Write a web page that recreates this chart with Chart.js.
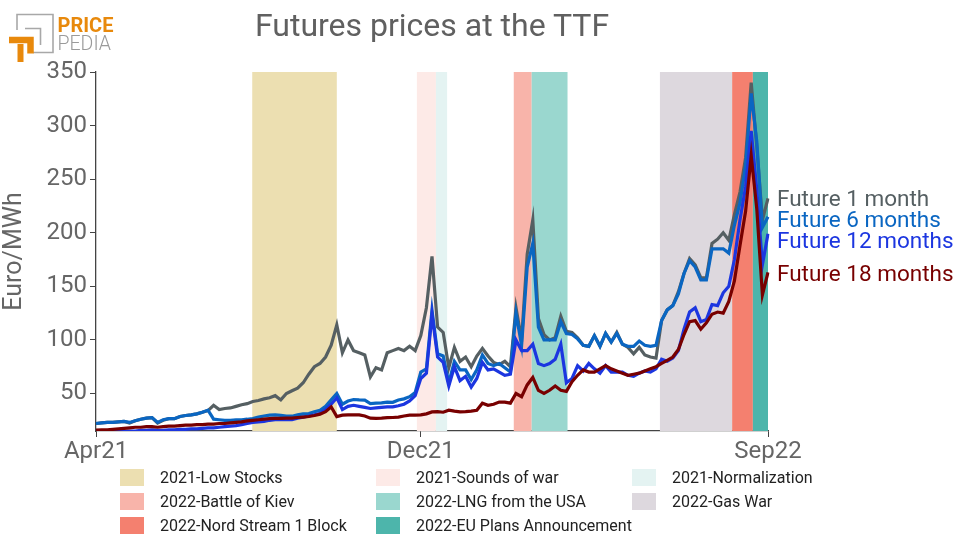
<!DOCTYPE html>
<html>
<head>
<meta charset="utf-8">
<script src="https://cdn.jsdelivr.net/npm/chart.js@4.4.1/dist/chart.umd.min.js"></script>
<style>
  html, body { margin: 0; padding: 0; background: #fff; }
  body { width: 963px; height: 538px; position: relative; overflow: hidden; font-family: Roboto, "Noto Sans", sans-serif; }
  #chart { position: absolute; left: 0; top: 0; }
  #title { position: absolute; left: 0; width: 864px; top: 6px; text-align: center; font-size: 32px; color: #606060; }
  #logo { position: absolute; left: 0; top: 0; }
  .endLabel { position: absolute; left: 777px; font-size: 22.5px; line-height: 24px; white-space: nowrap; }
  #legend { position: absolute; left: 120px; top: 465px; display: grid; grid-template-columns: 256px 256px 256px; grid-auto-rows: 24px; }
  .item { display: flex; align-items: center; font-size: 16px; color: #222; }
  .item span.box { width: 24px; height: 17px; margin-right: 16px; flex: none; }
</style>
</head>
<body>
<canvas id="chart" width="963" height="538"></canvas>
<div id="title">Futures prices at the TTF</div>
<svg id="logo" width="120" height="66" viewBox="0 0 120 66">
  <path d="M17 30 V14.5 H53 V52.5 H33" fill="none" stroke="#a8a8a8" stroke-width="1.6"/>
  <path d="M25 28.5 H40.5 V45" fill="none" stroke="#a8a8a8" stroke-width="1.6"/>
  <path d="M9 40 H30.5 V53.5" fill="none" stroke="#e8890c" stroke-width="6.5"/>
  <path d="M20.5 44 V62" fill="none" stroke="#e8890c" stroke-width="6"/>
  <text x="57.5" y="32" font-family="Roboto, sans-serif" font-weight="bold" font-size="20" fill="#e8890c">PRICE</text>
  <text x="57.5" y="50" font-family="Roboto, sans-serif" font-weight="300" font-size="19.5" fill="#9a9a9a">PEDIA</text>
</svg>
<div id="legend"></div>

<script>
// 系列名と色
const seriesNames = ["Future 1 month", "Future 6 months", "Future 12 months", "Future 18 months"];
const seriesColors = ["#555f62", "#0a66c2", "#1c36e0", "#780000"];
const labelY = [198, 219, 240, 273];

// x軸の目盛り (サンプル番号)
const xTickAt = [0, 58, 120];
const xTickLabels = ["Apr21", "Dec21", "Sep22"];
const yTicks = [50, 100, 150, 200, 250, 300, 350];

// 期間の帯
const bandNames = ["2021-Low Stocks", "2021-Sounds of war", "2021-Normalization",
  "2022-Battle of Kiev", "2022-LNG from the USA", "2022-Gas War",
  "2022-Nord Stream 1 Block", "2022-EU Plans Announcement"];
const bandStart = [27.9, 57.3, 60.7, 74.6, 77.8, 100.7, 113.6, 117.3];
const bandEnd   = [43.0, 60.7, 62.7, 77.8, 84.2, 113.6, 117.3, 120];
const bandColors = ["#ecdfb1", "#fdeae7", "#e4f3f2", "#f8b4aa", "#9ad7cf", "#ddd8de", "#f4806f", "#4db5ab"];

// 価格データ (Euro/MWh)
const future1 = [22, 22.5, 23, 23, 23.5, 24, 22.5, 24.5, 26, 27, 27.5, 22.5, 25, 26.5, 26.5, 28.5, 29.5, 30, 31, 32.5,
  34, 39, 35, 36, 36.5, 38, 39.5, 40.5, 42.5, 43.5, 45, 46, 48, 44, 50, 52.5, 55, 60, 68, 75,
  78, 84, 95, 114, 88, 100, 90, 88, 86, 65.5, 74, 72, 88, 90, 92, 90, 94, 90, 104, 130,
  178, 112, 107, 74, 93, 80, 84, 75, 85, 92, 85, 79, 77, 80, 75, 130, 100, 180, 212, 120,
  105, 100, 102, 122, 108, 107, 102, 95, 94, 104, 94, 106, 98, 107, 96, 93, 87, 93, 86, 84,
  83, 118, 128, 132, 145, 162, 176, 170, 158, 158, 190, 194, 200, 193, 217, 238, 270, 340, 280, 212,
  232];
const future6 = [22, 22.5, 23, 23, 23.5, 24, 23, 24.5, 26, 27, 27.5, 23, 25.5, 26.5, 26.5, 28.5, 29.5, 30, 31, 32.5,
  34.5, 26, 25.5, 25, 25, 25.5, 25.5, 26, 26.7, 28, 29, 29.8, 30, 29.5, 29, 28.8, 30, 31, 31.3, 33,
  34.4, 38, 44, 50, 40, 43, 44.4, 44, 43.8, 40.6, 41, 41.2, 42, 41.8, 44, 45, 47, 51, 70, 73,
  128, 87, 85, 60, 80, 72, 72, 63, 72, 86, 78, 76, 78, 74, 70, 125, 95, 168, 190, 112,
  100, 100, 100, 117, 106, 105, 101, 95, 94, 104, 94, 106, 98, 106, 96, 94, 94, 99, 95, 94,
  95, 118, 128, 132, 143, 162, 174, 168, 156, 156, 185, 185, 185, 181, 207, 228, 262, 330, 285, 205,
  215];
const future12 = [15, 15, 15, 15, 15, 15, 15, 15, 15.5, 15.5, 16, 15.5, 15.5, 16, 16, 16.5, 16.5, 17, 17, 17.5,
  18, 18, 18.5, 19, 19.5, 20, 21, 22, 23, 23.5, 24, 25, 25.5, 25.5, 25.7, 25.7, 27, 28, 29, 30,
  31.3, 35, 40, 46, 35, 38, 39, 38, 37, 36, 36.5, 37, 37.5, 37.5, 38.5, 40, 43, 48, 64, 69,
  124, 84, 79, 57, 75, 62, 66, 56, 64, 79, 72, 73, 70, 67, 68, 100, 90, 90, 96, 78,
  76, 78, 82, 96, 60, 64, 76, 71, 78, 73, 69, 76, 70, 70, 70, 67, 66, 69, 71, 70,
  73, 82, 80, 83, 90, 110, 126, 130, 117, 119, 133, 132, 144, 150, 175, 212, 243, 295, 240, 170,
  199];
const future18 = [15.8, 16, 16, 16.5, 17, 17.5, 18, 18.5, 18.5, 19, 19, 18.5, 19, 19.5, 19.5, 20, 20.5, 20.5, 21, 21,
  21.5, 21.5, 22, 22, 22.5, 23, 23.5, 24.5, 25, 25.5, 26, 26.5, 26.7, 26.7, 27, 27, 27.6, 28, 28.5, 29.5,
  30.7, 33, 37.5, 28.5, 29.8, 30, 30, 30, 29, 27, 26.7, 27, 27.5, 27.6, 28, 29, 29.8, 29.8, 30, 31,
  32.8, 33, 32.5, 34.4, 33.5, 32.8, 33, 33.5, 34.4, 41, 39, 40, 42, 42, 41, 50, 47, 58, 65, 53,
  50, 53, 57, 53, 52, 61, 67, 72, 70, 70, 73, 76, 73, 71, 69, 67, 68, 69, 71, 73,
  75, 78, 81, 84, 91, 105, 117, 118, 110, 116, 124, 126, 125, 136, 155, 188, 220, 272, 222, 142,
  163];

const seriesValues = [future1, future6, future12, future18];
const sampleLabels = future1.map((v, i) => i);

// 帯を描くプラグイン
const bandPlugin = {
  id: 'bands',
  beforeDatasetsDraw(chart) {
    const { ctx, chartArea, scales } = chart;
    ctx.save();
    bandNames.forEach((name, i) => {
      const x0 = scales.x.getPixelForValue(bandStart[i]);
      const x1 = scales.x.getPixelForValue(bandEnd[i]);
      ctx.fillStyle = bandColors[i];
      ctx.fillRect(x0, chartArea.top, x1 - x0, chartArea.bottom - chartArea.top);
    });
    ctx.restore();
  }
};

const datasets = seriesNames.map((name, i) => ({
  label: name,
  data: seriesValues[i],
  borderColor: seriesColors[i],
  backgroundColor: seriesColors[i],
  borderWidth: 3.2,
  pointRadius: 0,
  tension: 0,
  fill: false,
  order: 4 - i
}));

new Chart(document.getElementById('chart').getContext('2d'), {
  type: 'line',
  data: { labels: sampleLabels, datasets: datasets },
  plugins: [bandPlugin],
  options: {
    responsive: false,
    animation: false,
    layout: { padding: { left: 0, right: 195, top: 72, bottom: 0 } },
    plugins: { legend: { display: false }, tooltip: { enabled: false } },
    scales: {
      x: {
        type: 'category',
        offset: false,
        grid: { display: true, drawOnChartArea: false, drawTicks: true, tickLength: 6, color: '#444' },
        border: { display: true, color: '#444', width: 1.3 },
        ticks: {
          autoSkip: false,
          maxRotation: 0,
          padding: 1,
          color: '#666',
          font: { family: 'Roboto', size: 24 },
          callback: function (val, idx) {
            const k = xTickAt.indexOf(idx);
            return k >= 0 ? xTickLabels[k] : null;
          }
        },
        afterFit(scale) { scale.height = 107; }
      },
      y: {
        min: 15,
        max: 350,
        afterBuildTicks(scale) { scale.ticks = yTicks.map(v => ({ value: v })); },
        grid: { display: true, drawOnChartArea: false, drawTicks: true, tickLength: 6, color: '#444' },
        border: { display: true, color: '#444', width: 1.3 },
        ticks: { color: '#666', padding: 3, font: { family: 'Roboto', size: 24 } },
        title: { display: true, text: 'Euro/MWh', color: '#666', font: { family: 'Roboto', size: 25 }, padding: 0 },
        afterFit(scale) { scale.width = 96; }
      }
    }
  }
});

// 右側の系列ラベル
seriesNames.forEach((name, i) => {
  const d = document.createElement('div');
  d.className = 'endLabel';
  d.style.top = (labelY[i] - 12) + 'px';
  d.style.color = seriesColors[i];
  d.textContent = name;
  document.body.appendChild(d);
});

// 凡例
const legend = document.getElementById('legend');
bandNames.forEach((name, i) => {
  const item = document.createElement('div');
  item.className = 'item';
  item.innerHTML = '<span class="box" style="background:' + bandColors[i] + '"></span>' + name;
  legend.appendChild(item);
});
</script>
</body>
</html>
